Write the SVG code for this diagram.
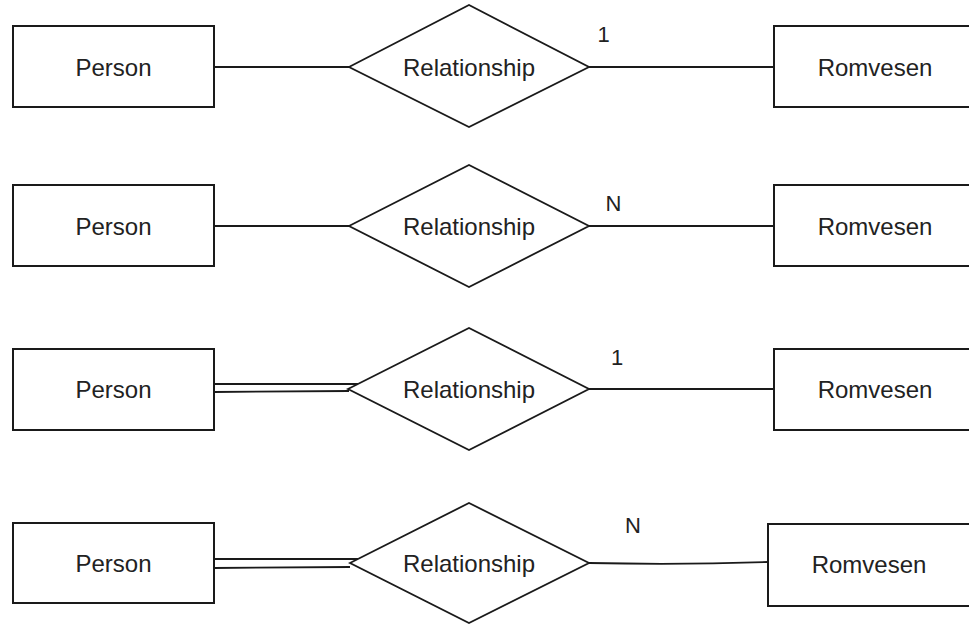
<svg xmlns="http://www.w3.org/2000/svg" width="969" height="626" viewBox="0 0 969 626">
<style>
.ent{fill:#fff;stroke:#1a1a1a;stroke-width:2}
.rel{fill:#fff;stroke:#1a1a1a;stroke-width:1.8}
.ln{fill:none;stroke:#1a1a1a;stroke-width:1.8}
.t{font-family:"Liberation Sans",Arial,sans-serif;font-size:24px;fill:#222;text-anchor:middle}
.lbl{font-family:"Liberation Sans",Arial,sans-serif;font-size:22px;fill:#222;text-anchor:middle}
</style>
<rect width="969" height="626" fill="#fff"/>
<g id="connectors">
<line class="ln" x1="214" y1="67" x2="349" y2="67"/>
<line class="ln" x1="589" y1="67" x2="774" y2="67"/>
<line class="ln" x1="214" y1="226" x2="349" y2="226"/>
<line class="ln" x1="589" y1="226" x2="774" y2="226"/>
<line class="ln" x1="214" y1="384" x2="358" y2="384"/>
<line class="ln" x1="214" y1="392" x2="349" y2="391"/>
<line class="ln" x1="589" y1="389" x2="774" y2="389"/>
<line class="ln" x1="214" y1="559" x2="359" y2="559"/>
<line class="ln" x1="214" y1="568" x2="350" y2="567"/>
<path class="ln" d="M589 563 Q680 565 768 562"/>
<text class="lbl" x="603.5" y="42">1</text>
<text class="lbl" x="613.5" y="211">N</text>
<text class="lbl" x="617" y="365">1</text>
<text class="lbl" x="633" y="533">N</text>
</g>
<g id="person1"><rect class="ent" x="13" y="26" width="201" height="81"/><text class="t" x="113.5" y="75.5">Person</text></g>
<g id="rel1"><polygon class="rel" points="349,67 469,5 589,67 469,127"/><text class="t" x="469" y="75.5">Relationship</text></g>
<g id="romvesen1"><rect class="ent" x="774" y="26" width="202" height="81"/><text class="t" x="875" y="75.5">Romvesen</text></g>
<g id="person2"><rect class="ent" x="13" y="185" width="201" height="81"/><text class="t" x="113.5" y="234.5">Person</text></g>
<g id="rel2"><polygon class="rel" points="349,226 469,165 589,226 469,287"/><text class="t" x="469" y="234.5">Relationship</text></g>
<g id="romvesen2"><rect class="ent" x="774" y="185" width="202" height="81"/><text class="t" x="875" y="234.5">Romvesen</text></g>
<g id="person3"><rect class="ent" x="13" y="349" width="201" height="81"/><text class="t" x="113.5" y="398">Person</text></g>
<g id="rel3"><polygon class="rel" points="348,389 469,328 589,389 469,450"/><text class="t" x="469" y="398">Relationship</text></g>
<g id="romvesen3"><rect class="ent" x="774" y="349" width="202" height="81"/><text class="t" x="875" y="398">Romvesen</text></g>
<g id="person4"><rect class="ent" x="13" y="523" width="201" height="80"/><text class="t" x="113.5" y="572">Person</text></g>
<g id="rel4"><polygon class="rel" points="350,563 469,503 589,563 469,623"/><text class="t" x="469" y="572">Relationship</text></g>
<g id="romvesen4"><rect class="ent" x="768" y="524" width="202" height="82"/><text class="t" x="869" y="573">Romvesen</text></g>
</svg>
